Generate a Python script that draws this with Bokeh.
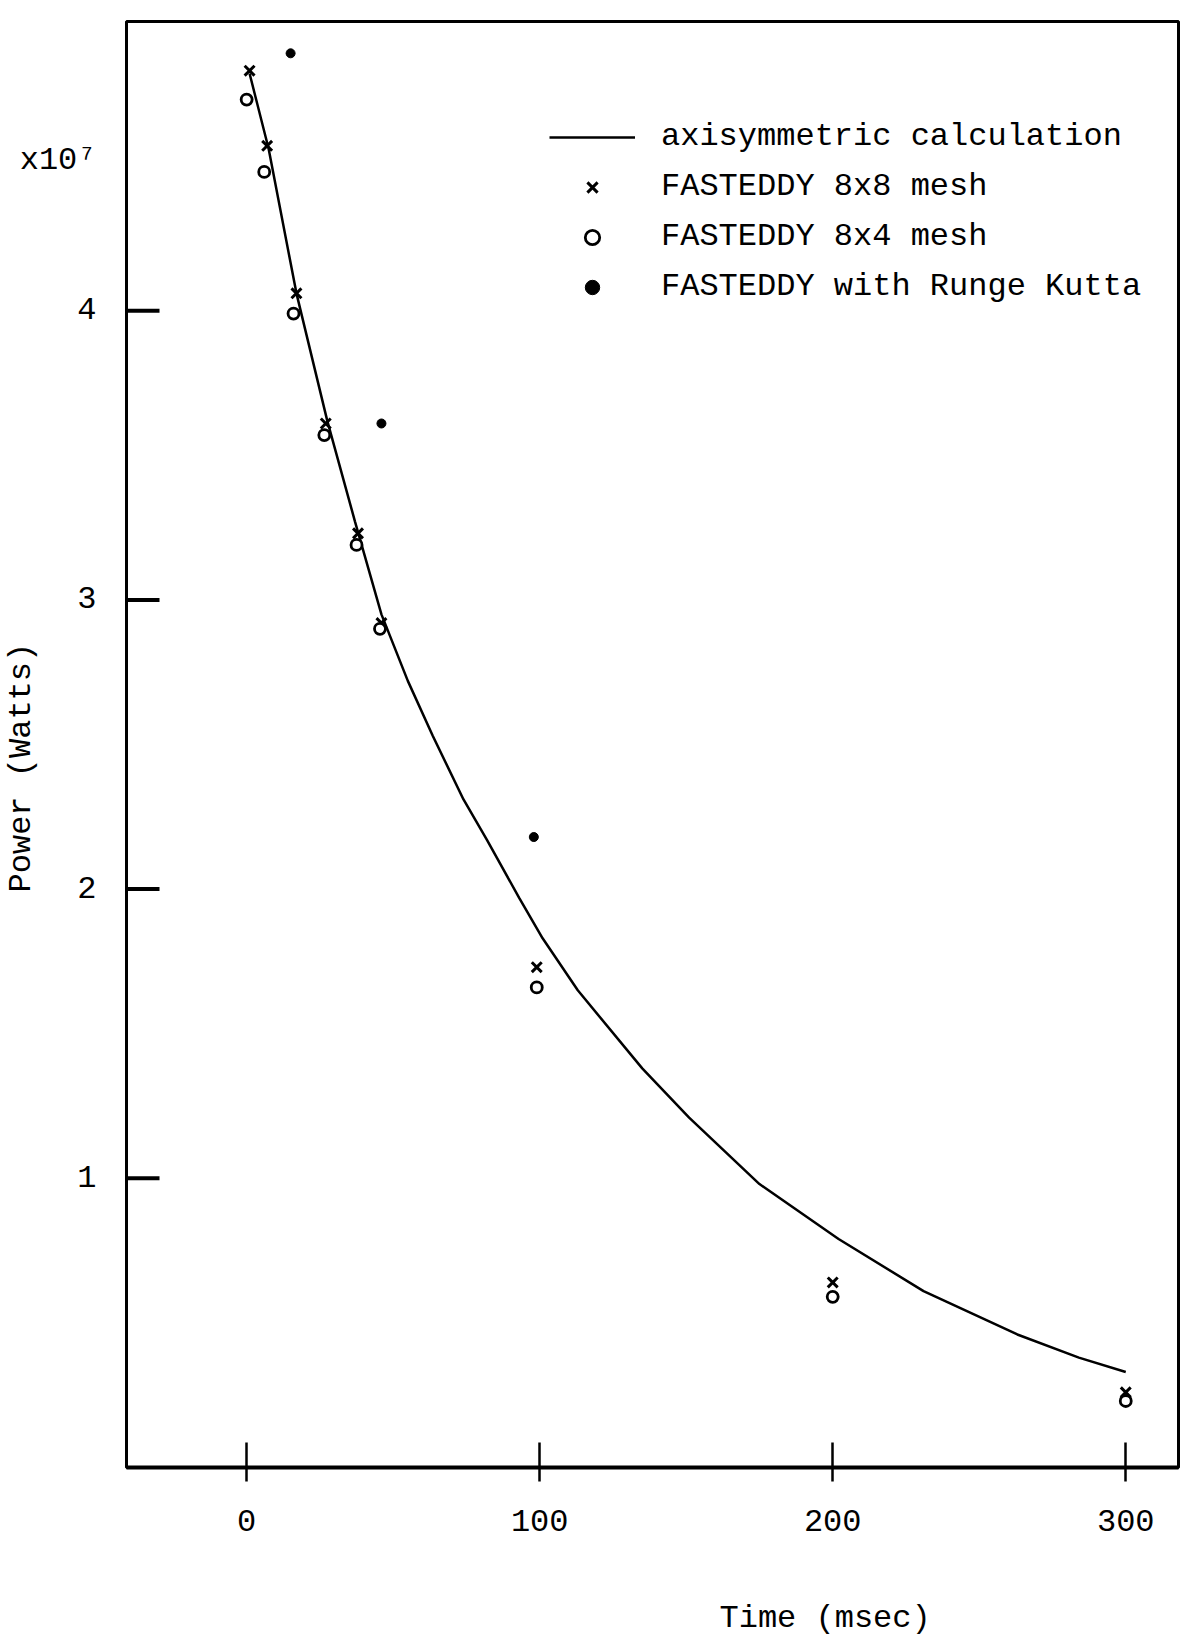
from bokeh.plotting import figure
from bokeh.models import Range1d, FixedTicker, Legend, LegendItem, LinearAxis
from bokeh.embed import file_html
from bokeh.resources import INLINE

# ---------------- data ----------------
# Time in msec, power in units of 1e7 W
curve_t = [1, 7.5, 17, 27.5, 37, 46, 55, 63.5, 74, 82, 93, 101, 113, 135, 151, 175, 202, 231, 263, 284, 300]
curve_p = [4.82, 4.56, 4.06, 3.62, 3.27, 2.95, 2.72, 2.53, 2.31, 2.17, 1.97, 1.83, 1.65, 1.38, 1.21, 0.98, 0.79, 0.61, 0.46, 0.38, 0.33]

mesh88_t = [1, 7, 17, 27, 38, 46, 99, 200, 300]
mesh88_p = [4.83, 4.57, 4.06, 3.61, 3.23, 2.92, 1.73, 0.64, 0.26]

mesh84_t = [0, 6, 16, 26.5, 37.5, 45.5, 99, 200, 300]
mesh84_p = [4.73, 4.48, 3.99, 3.57, 3.19, 2.90, 1.66, 0.59, 0.23]

rk_t = [15, 46, 98]
rk_p = [4.89, 3.61, 2.18]

x_ticks = [0, 100, 200, 300]
y_ticks = [1, 2, 3, 4]

series_labels = ["axisymmetric calculation", "FASTEDDY 8x8 mesh",
                 "FASTEDDY 8x4 mesh", "FASTEDDY with Runge Kutta"]
x_title = "Time (msec)"
x_title_pos = 197.4          # the titles sit off-centre in the original
y_title = "Power (Watts)"
y_title_pos = 2.42
scale_label = "x10\u2077"
scale_label_pos = 4.52

FONT = "Liberation Mono"
FS = "32px"

p = figure(width=1188, height=1648,
           x_range=Range1d(-41, 318), y_range=Range1d(0, 5),
           output_backend="svg", toolbar_location=None,
           min_border_left=124, min_border_right=10,
           min_border_top=21, min_border_bottom=181,
           background_fill_color="white", border_fill_color="white")

p.xgrid.visible = False
p.ygrid.visible = False
p.outline_line_color = "black"
p.outline_line_width = 3


def bare_axis(ticks, overrides, standoff, orientation="horizontal"):
    ax = LinearAxis(ticker=FixedTicker(ticks=ticks), major_label_overrides=overrides)
    ax.axis_line_color = None
    ax.major_tick_line_color = None
    ax.minor_tick_line_color = None
    ax.major_tick_in = 0
    ax.major_tick_out = 0
    ax.major_label_text_font = FONT
    ax.major_label_text_font_size = FS
    ax.major_label_text_color = "black"
    ax.major_label_standoff = standoff
    ax.major_label_orientation = orientation
    return ax


# x axis
xa = p.xaxis[0]
xa.ticker = FixedTicker(ticks=x_ticks)
xa.axis_line_width = 4
xa.axis_line_color = "black"
xa.major_tick_in = 25
xa.major_tick_out = 14
xa.major_tick_line_width = 2.5
xa.major_tick_line_color = "black"
xa.minor_tick_line_color = None
xa.major_label_text_font = FONT
xa.major_label_text_font_size = FS
xa.major_label_text_color = "black"
xa.major_label_standoff = 28

# x title carried by a bare axis below the main one
p.add_layout(bare_axis([x_title_pos], {x_title_pos: x_title}, 66), "below")

# y axis: tick labels plus the scale factor label; tick marks drawn as rays
ya = p.yaxis[0]
ya.ticker = FixedTicker(ticks=y_ticks + [scale_label_pos])
ya.major_label_overrides = {scale_label_pos: scale_label}
ya.axis_line_width = 2
ya.axis_line_color = "black"
ya.major_tick_line_color = None
ya.major_tick_in = 0
ya.major_tick_out = 0
ya.minor_tick_line_color = None
ya.major_label_text_font = FONT
ya.major_label_text_font_size = FS
ya.major_label_text_color = "black"
ya.major_label_standoff = 30
ya.major_label_orientation = "horizontal"

# y title carried by a bare axis left of the main one
p.add_layout(bare_axis([y_title_pos], {y_title_pos: y_title}, -24, "vertical"), "left")

p.ray(x=[p.x_range.start] * len(y_ticks), y=y_ticks, length=33, length_units="screen",
      angle=0, line_color="black", line_width=4)

# glyphs
r_line = p.line(curve_t, curve_p, line_color="black", line_width=2.5)
r88 = p.scatter(mesh88_t, mesh88_p, marker="x", size=14, line_color="black", line_width=3)
r84 = p.scatter(mesh84_t, mesh84_p, marker="circle", size=11, line_color="black",
                line_width=2.8, fill_color="white")
rrk = p.scatter(rk_t, rk_p, marker="circle", size=9, line_color="black",
                fill_color="black")

legend = Legend(items=[
    LegendItem(label=series_labels[0], renderers=[r_line]),
    LegendItem(label=series_labels[1], renderers=[r88]),
    LegendItem(label=series_labels[2], renderers=[r84]),
    LegendItem(label=series_labels[3], renderers=[rrk]),
], location=(423, 1162))
legend.padding = 0
legend.margin = 0
legend.spacing = 13
legend.glyph_width = 86
legend.glyph_height = 36
legend.label_height = 36
legend.label_standoff = 26
legend.border_line_alpha = 0
legend.background_fill_alpha = 0
legend.label_text_font = FONT
legend.label_text_font_size = FS
legend.label_text_color = "black"
p.add_layout(legend)

open("out.html", "w").write(file_html(p, INLINE))
